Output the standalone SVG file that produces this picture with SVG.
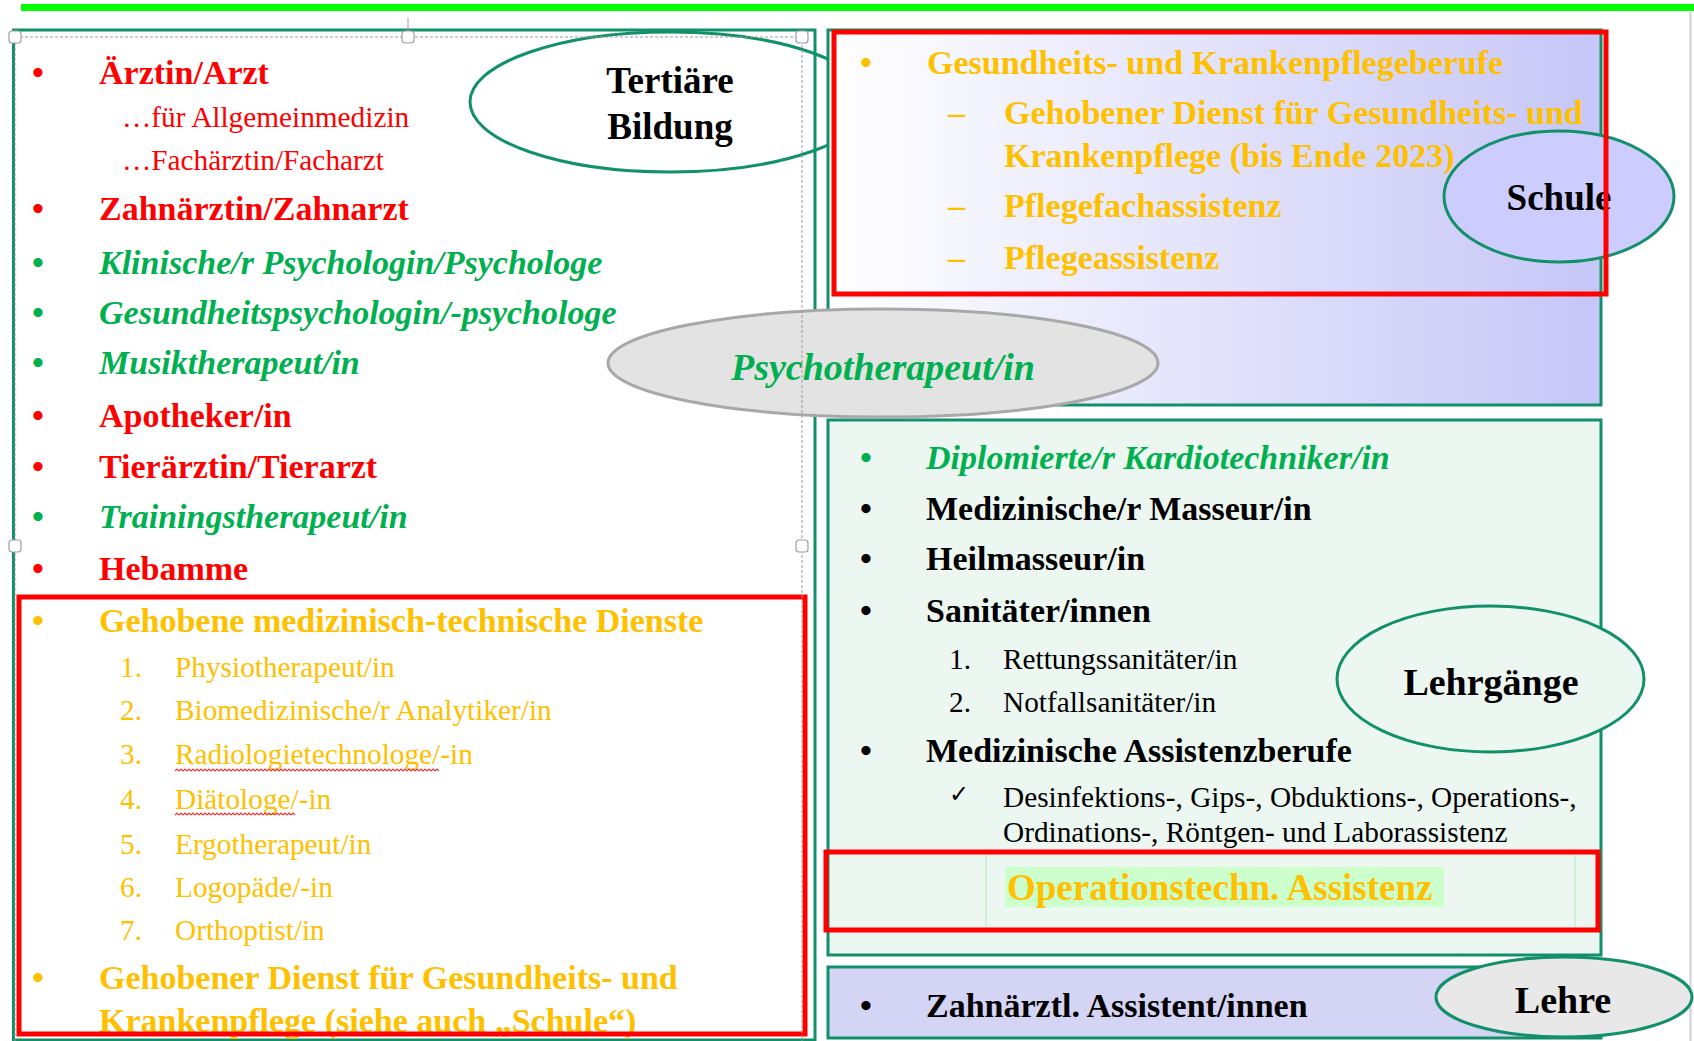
<svg xmlns="http://www.w3.org/2000/svg" width="1694" height="1041" viewBox="0 0 1694 1041">
<style>
text{font-family:"Liberation Serif","Times New Roman",serif}
.b{font-weight:bold;font-size:34px}
.bi{font-weight:bold;font-style:italic;font-size:34px}
.r{font-size:29.3px}
.red{fill:#ff0000}
.gold{fill:#ffc000}
.grn{fill:#00b050}
.blk{fill:#000}
.panel{stroke:#12906a;stroke-width:3}
.rbox{fill:none;stroke:#ff0000;stroke-width:5}
.ell{stroke:#12906a;stroke-width:3}
.lbl{font-weight:bold;font-size:37px;fill:#000;text-anchor:middle}
.bul{text-anchor:middle}
.handle{fill:#fff;stroke:#a0a0a0;stroke-width:1.2}
</style>
<defs>
<linearGradient id="gTop" x1="0" y1="0" x2="1" y2="0">
<stop offset="0" stop-color="#ffffff"/>
<stop offset="1" stop-color="#c6c6f7"/>
</linearGradient>
<pattern id="wavy" x="175" y="0" width="4" height="4" patternUnits="userSpaceOnUse">
<path d="M0 3 L2 1 L4 3" fill="none" stroke="#e03030" stroke-width="1.2"/>
</pattern>
</defs>

<rect x="21" y="4" width="1673" height="7" fill="#00ff00"/>
<line x1="1690.5" y1="12" x2="1690.5" y2="1041" stroke="#d0d0d0" stroke-width="2"/>

<g id="left-panel">
<rect class="panel" x="13.5" y="30" width="801.5" height="1010" fill="#ffffff"/>
<text class="b red bul" x="38" y="84">•</text><text class="b red" x="99" y="84">Ärztin/Arzt</text>
<text class="r red" x="122" y="127">…für Allgemeinmedizin</text>
<text class="r red" x="122" y="170">…Fachärztin/Facharzt</text>
<text class="b red bul" x="38" y="220">•</text><text class="b red" x="99" y="220">Zahnärztin/Zahnarzt</text>
<text class="b grn bul" x="38" y="274">•</text><text class="bi grn" x="99" y="274">Klinische/r Psychologin/Psychologe</text>
<text class="b grn bul" x="38" y="324">•</text><text class="bi grn" x="99" y="324">Gesundheitspsychologin/-psychologe</text>
<text class="b grn bul" x="38" y="374">•</text><text class="bi grn" x="99" y="374">Musiktherapeut/in</text>
<text class="b red bul" x="38" y="427">•</text><text class="b red" x="99" y="427">Apotheker/in</text>
<text class="b red bul" x="38" y="478">•</text><text class="b red" x="99" y="478">Tierärztin/Tierarzt</text>
<text class="b grn bul" x="38" y="528">•</text><text class="bi grn" x="99" y="528">Trainingstherapeut/in</text>
<text class="b red bul" x="38" y="580">•</text><text class="b red" x="99" y="580">Hebamme</text>
<text class="b gold bul" x="38" y="632">•</text><text class="b gold" x="99" y="632">Gehobene medizinisch-technische Dienste</text>
<text class="r gold" x="120" y="677">1.</text><text class="r gold" x="175" y="677">Physiotherapeut/in</text>
<text class="r gold" x="120" y="720">2.</text><text class="r gold" x="175" y="720">Biomedizinische/r Analytiker/in</text>
<text class="r gold" x="120" y="764">3.</text><text class="r gold" x="175" y="764">Radiologietechnologe/-in</text>
<text class="r gold" x="120" y="809">4.</text><text class="r gold" x="175" y="809">Diätologe/-in</text>
<text class="r gold" x="120" y="854">5.</text><text class="r gold" x="175" y="854">Ergotherapeut/in</text>
<text class="r gold" x="120" y="897">6.</text><text class="r gold" x="175" y="897">Logopäde/-in</text>
<text class="r gold" x="120" y="940">7.</text><text class="r gold" x="175" y="940">Orthoptist/in</text>
<rect x="175" y="768" width="264" height="4" fill="url(#wavy)"/>
<rect x="175" y="812" width="120" height="4" fill="url(#wavy)"/>
<text class="b gold bul" x="38" y="989">•</text><text class="b gold" x="99" y="989">Gehobener Dienst für Gesundheits- und</text>
<text class="b gold" x="99" y="1032">Krankenpflege (siehe auch „Schule“)</text>
<rect class="rbox" x="19" y="597" width="786" height="437"/>
</g>

<g id="tertiaere-bildung">
<ellipse class="ell" cx="670" cy="102" rx="200" ry="70" fill="none"/>
<text class="lbl" x="670" y="93">Tertiäre</text>
<text class="lbl" x="670" y="139">Bildung</text>
</g>

<g id="schule-panel">
<rect class="panel" x="828" y="30" width="773" height="375" fill="url(#gTop)"/>
<text class="b gold bul" x="866" y="74">•</text><text class="b gold" x="927" y="74">Gesundheits- und Krankenpflegeberufe</text>
<text class="b gold" x="948" y="124">–</text><text class="b gold" x="1004" y="124">Gehobener Dienst für Gesundheits- und</text>
<text class="b gold" x="1004" y="167">Krankenpflege (bis Ende 2023)</text>
<text class="b gold" x="948" y="217">–</text><text class="b gold" x="1004" y="217">Pflegefachassistenz</text>
<text class="b gold" x="948" y="269">–</text><text class="b gold" x="1004" y="269">Pflegeassistenz</text>
</g>
<g id="schule">
<ellipse class="ell" cx="1559" cy="196.5" rx="115" ry="65.5" fill="#ccccff"/>
<text class="lbl" x="1559" y="210">Schule</text>
</g>
<rect class="rbox" x="834" y="32" width="772" height="262"/>

<g id="lehrgaenge-panel">
<rect class="panel" x="828" y="420" width="773" height="535" fill="#edf7f1"/>
<text class="b grn bul" x="866" y="469">•</text><text class="bi grn" x="926" y="469">Diplomierte/r Kardiotechniker/in</text>
<text class="b blk bul" x="866" y="520">•</text><text class="b blk" x="926" y="520">Medizinische/r Masseur/in</text>
<text class="b blk bul" x="866" y="570">•</text><text class="b blk" x="926" y="570">Heilmasseur/in</text>
<text class="b blk bul" x="866" y="622">•</text><text class="b blk" x="926" y="622">Sanitäter/innen</text>
<text class="r blk" x="949" y="669">1.</text><text class="r blk" x="1003" y="669">Rettungssanitäter/in</text>
<text class="r blk" x="949" y="712">2.</text><text class="r blk" x="1003" y="712">Notfallsanitäter/in</text>
<text class="b blk bul" x="866" y="762">•</text><text class="b blk" x="926" y="762">Medizinische Assistenzberufe</text>
<text class="r blk" x="949" y="802" style="font-family:'DejaVu Sans',sans-serif;font-size:24px">✓</text>
<text class="r blk" x="1003" y="807">Desinfektions-, Gips-, Obduktions-, Operations-,</text>
<text class="r blk" x="1003" y="842">Ordinations-, Röntgen- und Laborassistenz</text>
<line x1="986" y1="855" x2="986" y2="927" stroke="#c6efce" stroke-width="1.5"/>
<line x1="1575" y1="855" x2="1575" y2="927" stroke="#c6efce" stroke-width="1.5"/>
<rect x="1005" y="867" width="439" height="40" fill="#ccffcc"/>
<text class="gold" x="1007" y="900" style="font-weight:bold;font-size:37px">Operationstechn. Assistenz</text>
<rect class="rbox" x="826" y="852" width="772" height="78"/>
</g>
<g id="lehrgaenge">
<ellipse class="ell" cx="1490.5" cy="679" rx="153.5" ry="73" fill="#edf7f1"/>
<text class="lbl" x="1491" y="695" style="font-size:38px">Lehrgänge</text>
</g>

<g id="lehre-panel">
<rect class="panel" x="828" y="967" width="773" height="71" fill="#d4d4f4"/>
<text class="b blk bul" x="866" y="1017">•</text><text class="b blk" x="926" y="1017">Zahnärztl. Assistent/innen</text>
</g>
<g id="lehre">
<ellipse class="ell" cx="1564" cy="997" rx="128" ry="40" fill="#e8e8e8"/>
<text class="lbl" x="1563" y="1013" style="font-size:38px">Lehre</text>
</g>

<g id="psychotherapeut">
<ellipse cx="883" cy="363" rx="275" ry="54" fill="#e3e3e3" stroke="#a8a8a8" stroke-width="3"/>
<text class="grn" x="883" y="380" text-anchor="middle" style="font-weight:bold;font-style:italic;font-size:38px">Psychotherapeut/in</text>
</g>

<g id="selection">
<rect x="15" y="37" width="787" height="1020" fill="none" stroke="#9a9a9a" stroke-width="1" stroke-dasharray="3 2"/>
<line x1="408" y1="18" x2="408" y2="31" stroke="#9a9a9a" stroke-width="1"/>
<rect class="handle" x="9" y="31" width="12" height="12" rx="3"/>
<rect class="handle" x="402" y="31" width="12" height="12" rx="3"/>
<rect class="handle" x="796" y="31" width="12" height="12" rx="3"/>
<rect class="handle" x="9" y="540" width="12" height="12" rx="3"/>
<rect class="handle" x="796" y="540" width="12" height="12" rx="3"/>
</g>
</svg>
